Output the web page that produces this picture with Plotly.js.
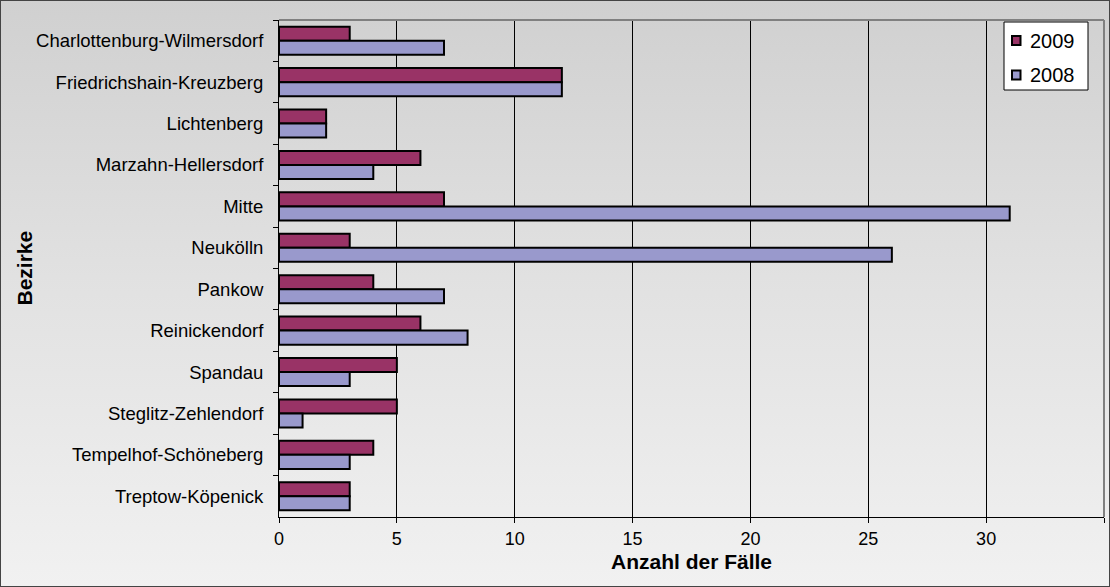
<!DOCTYPE html>
<html><head><meta charset="utf-8">
<script src="https://cdn.plot.ly/plotly-3.0.1.min.js"></script>
<style>
html,body{margin:0;padding:0;}
#wrap{position:relative;width:1110px;height:587px;background:linear-gradient(to bottom,#d0d0d0 0%,#e2e2e2 50%,#f1f1f1 100%);}
#chart{width:1110px;height:587px;}
#frame{position:absolute;left:0;top:0;width:1108px;height:585px;border:1px solid #444;pointer-events:none;}
</style></head>
<body><div id="wrap"><div id="chart"></div><div id="frame"></div></div>
<script>
const categories = ["Charlottenburg-Wilmersdorf","Friedrichshain-Kreuzberg","Lichtenberg","Marzahn-Hellersdorf","Mitte","Neukölln","Pankow","Reinickendorf","Spandau","Steglitz-Zehlendorf","Tempelhof-Schöneberg","Treptow-Köpenick"];
const values2009 = [3,12,2,6,7,3,4,6,5,5,4,3];
const values2008 = [7,12,2,4,31,26,7,8,3,1,3,3];
const seriesNames = ["2009","2008"];
const seriesColors = ["#993366","#9999CC"];
const xTicks = [0,5,10,15,20,25,30,35];

const font = {family:"Liberation Sans, Arial, sans-serif", color:"#000"};
const traces = [
  {type:"bar", orientation:"h", name:seriesNames[0], y:categories, x:values2009,
   marker:{color:seriesColors[0], line:{color:"#000", width:2}}},
  {type:"bar", orientation:"h", name:seriesNames[1], y:categories, x:values2008,
   marker:{color:seriesColors[1], line:{color:"#000", width:2}}}
];

// custom legend (paper coordinates)
const L = 279, R = 1104, T = 20, B = 517;
const px = v => (v - L) / (R - L);
const py = v => (B - v) / (B - T);
const shapes = [
  {type:"line", xref:"paper", yref:"paper", x0:0, x1:1, y0:1, y1:1, line:{color:"#808080", width:2}},
  {type:"line", xref:"paper", yref:"paper", x0:1, x1:1, y0:0, y1:1, line:{color:"#808080", width:2}},
  {type:"rect", xref:"paper", yref:"paper", x0:px(1004), x1:px(1088), y0:py(90), y1:py(22),
   fillcolor:"#fff", line:{color:"#000", width:1}}
];
const annotations = [
  {xref:"paper", yref:"paper", x:px(24), y:0.5, text:"<b>Bezirke</b>", textangle:-90, showarrow:false,
   font:{size:21}, xanchor:"center", yanchor:"middle"}
];
const rowsY = [40.5, 75];
seriesNames.forEach((n, i) => {
  const cy = rowsY[i];
  shapes.push({type:"rect", xref:"paper", yref:"paper", x0:px(1012), x1:px(1020.5), y0:py(cy+4.5), y1:py(cy-4.5),
    fillcolor:seriesColors[i], line:{color:"#000", width:2}});
  annotations.push({xref:"paper", yref:"paper", x:px(1028), y:py(cy), text:n, showarrow:false,
    xanchor:"left", yanchor:"middle", font:{size:20}});
});

const layout = {
  width:1110, height:587,
  paper_bgcolor:"rgba(0,0,0,0)", plot_bgcolor:"rgba(0,0,0,0)",
  margin:{l:279, r:6, t:20, b:70},
  barmode:"group", bargap:0.32, bargroupgap:0,
  font:Object.assign({size:18}, font),
  xaxis:{range:[0,35], tickvals:xTicks, ticktext:xTicks.map(String), showgrid:true, gridcolor:"#000", gridwidth:1,
    zeroline:false, showline:true, linecolor:"#000", linewidth:1, ticks:"outside", ticklen:5, tickcolor:"#000",
    tickfont:{size:18}, title:{text:"<b>Anzahl der Fälle</b>", font:{size:21}, standoff:6}},
  yaxis:{autorange:"reversed", type:"category", showline:true, linecolor:"#000", linewidth:1,
    ticks:"outside", tickson:"boundaries", ticklen:5, tickcolor:"#000", showgrid:false,
    tickfont:{size:18.5}, ticklabelstandoff:11},
  shapes: shapes,
  annotations: annotations,
  showlegend:false
};
Plotly.newPlot("chart", traces, layout, {displayModeBar:false, staticPlot:true});
</script></body></html>
